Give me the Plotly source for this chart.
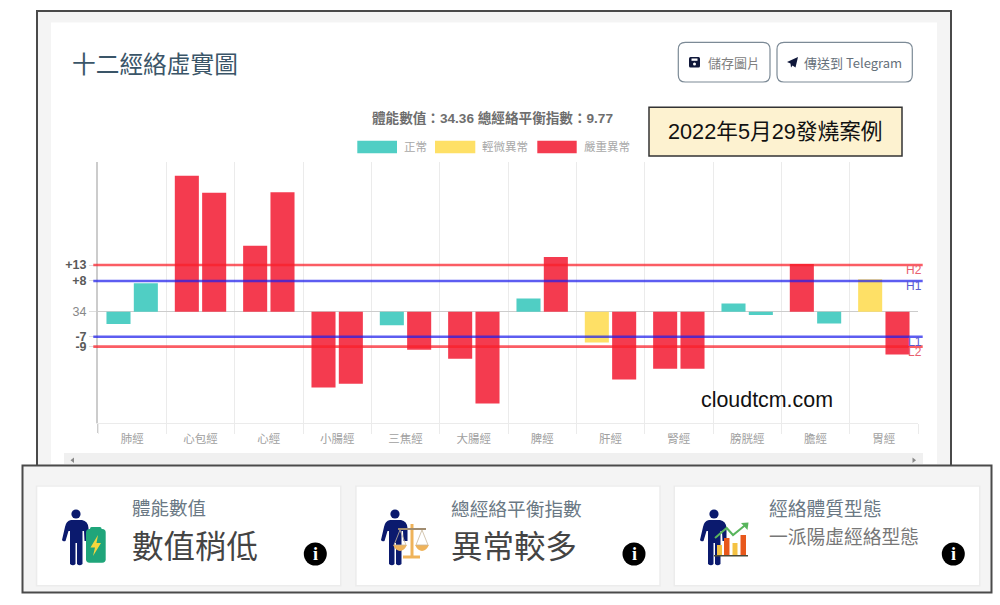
#!/usr/bin/env python3
# -*- coding: utf-8 -*-
# 十二經絡虛實圖 dashboard screenshot, rebuilt with plotly
import re
import plotly.graph_objects as go

W, H = 1000, 605
CJK = "Noto Sans CJK TC, Liberation Sans, sans-serif"
LATIN = "Liberation Sans, Noto Sans CJK TC, sans-serif"

# chart data
meridians = ["肺經", "心包經", "心經", "小腸經", "三焦經", "大腸經",
             "脾經", "肝經", "腎經", "膀胱經", "膽經", "胃經"]
left_values = [-3.4, 37.9, 18.4, -21.1, -3.8, -13.1, 3.7, -8.6, -15.9, 2.3, 13.3, 9.0]
right_values = [7.9, 33.1, 33.3, -20.1, -10.6, -25.6, 15.2, -18.9, -15.9, -0.9, -3.3, -11.9]
left_status = ["n", "s", "s", "s", "n", "s", "n", "m", "s", "n", "s", "m"]
right_status = ["n", "s", "s", "s", "s", "s", "s", "s", "s", "n", "n", "s"]

status_colors = {"n": "#50CEC4", "m": "#FEE066", "s": "#F43B4F"}
legend_labels = ["正常", "輕微異常", "嚴重異常"]

level_values = [13, 8.55, 0, -7, -9.75]
level_labels = ["<b>+13</b>", "<b>+8</b>", '<span style="color:#888">34</span>', "<b>-7</b>", "<b>-9</b>"]
limit_values = [13, 8.55, -7, -9.75]
limit_names = ["H2", "H1", "L1", "L2"]
limit_colors = ["rgba(250,30,40,0.72)", "rgba(30,30,235,0.72)", "rgba(30,30,235,0.72)", "rgba(250,30,40,0.72)"]
limit_text_colors = ["#E8606E", "#5A5AD0", "#5A5AD0", "#E8606E"]

y_min, y_max = -31.1, 41.7
plot_left, plot_right, plot_top, plot_bottom = 98, 918, 162, 423.3


def X(px):
    return px / W


def Y(py):
    return 1 - py / H


# pixel path -> paper path
def to_paper(d):
    return re.sub(r"(-?[\d.]+),(-?[\d.]+)",
                  lambda m: f"{X(float(m[1])):.5f},{Y(float(m[2])):.5f}", d)


shapes = []
notes = []


def rect(x0, y0, x1, y1, fill, line=None, w=1, layer="below"):
    shapes.append(dict(type="rect", xref="paper", yref="paper", layer=layer,
                       x0=X(x0), x1=X(x1), y0=Y(y0), y1=Y(y1), fillcolor=fill,
                       line=dict(color=line or "rgba(0,0,0,0)", width=w if line else 0)))


def path(d, fill="rgba(0,0,0,0)", line=None, w=1, layer="above"):
    shapes.append(dict(type="path", xref="paper", yref="paper", layer=layer, path=to_paper(d),
                       fillcolor=fill,
                       line=dict(color=line or "rgba(0,0,0,0)", width=w if line else 0)))


def circle(cx, cy, r, fill):
    shapes.append(dict(type="circle", xref="paper", yref="paper", layer="above",
                       x0=X(cx - r), x1=X(cx + r), y0=Y(cy + r), y1=Y(cy - r),
                       fillcolor=fill, line=dict(width=0)))


def text(x, y, s, size, color, anchor="left", font=CJK):
    notes.append(dict(xref="paper", yref="paper", x=X(x), y=Y(y), text=s, showarrow=False,
                      xanchor=anchor, yanchor="middle", borderpad=0,
                      font=dict(size=size, color=color, family=font)))


def rounded(x0, y0, x1, y1, r):
    return (f"M {x0 + r},{y0} L {x1 - r},{y0} Q {x1},{y0} {x1},{y0 + r} L {x1},{y1 - r} "
            f"Q {x1},{y1} {x1 - r},{y1} L {x0 + r},{y1} Q {x0},{y1} {x0},{y1 - r} "
            f"L {x0},{y0 + r} Q {x0},{y0} {x0 + r},{y0} Z")


def person(dx):
    circle(76 + dx, 514, 4.6, "#0B1A6E")
    d = (f"M {71 + dx},520 L {82 + dx},520 Q {88 + dx},521 {88.5 + dx},528 L {88.5 + dx},541 "
         f"L {84.5 + dx},541 L {84 + dx},531 L {82.5 + dx},531 L {82.5 + dx},564 "
         f"Q {79.5 + dx},566.5 {77 + dx},564 L {77 + dx},543 L {75.5 + dx},543 L {75.5 + dx},564 "
         f"Q {73 + dx},566.5 {70 + dx},564 L {70 + dx},531 L {68.5 + dx},531 L {65.5 + dx},541 "
         f"Q {63 + dx},542 {62 + dx},540 L {65 + dx},527 Q {66 + dx},521 {71 + dx},520 Z")
    path(d, fill="#0B1A6E")


# page background and the two dark frames
rect(37, 11, 951, 466, "#F4F4F4", "#4A4A4A", 2)
rect(51, 22.5, 937, 464, "#FFFFFF")
rect(64, 453, 923, 464, "#F0F0F0")
path("M 74,457.5 L 74,463 L 70.5,460.3 Z", fill="#888888", layer="below")
path("M 912.5,457.5 L 912.5,463 L 916,460.3 Z", fill="#888888", layer="below")
rect(22.5, 465.5, 991.5, 592.5, "#F4F4F4", "#4A4A4A", 2)

for x0, x1 in [(37.3, 340), (356.7, 659.3), (675, 979)]:
    rect(x0 - 1.5, 485.5, x1 + 1.5, 586.5, "#ECECEC")
    rect(x0, 486.7, x1, 585, "#FFFFFF")

# header
text(70.5, 63.5, "十二經絡虛實圖", 23.7, "#3A5568")
text(371, 118, "<b>體能數值：34.36 總經絡平衡指數：9.77</b>", 13.6, "#6E6E6E", font=LATIN)

# buttons
path(rounded(678.3, 42.3, 770, 82, 7), fill="#FFFFFF", line="#7C8A96", w=1.2)
path(rounded(777, 42.3, 912.3, 82, 7), fill="#FFFFFF", line="#7C8A96", w=1.2)
path(rounded(689, 57, 700, 67.5, 1.5), fill="#10183A")
rect(691.5, 58.5, 697.5, 60.8, "#FFFFFF", layer="above")
circle(694.5, 64, 1.5, "#FFFFFF")
path("M 798,57 L 795.5,67.5 L 792.5,65.5 L 791,67.5 L 790.5,63.5 L 787,62 Z", fill="#10183A")
text(707, 62, "儲存圖片", 13, "#808080")
text(803, 62, "傳送到 Telegram", 13, "#66707A", font="Noto Sans CJK TC, Liberation Sans, sans-serif")

# case note box
rect(649, 107.3, 902, 156, "#FDF2D0", "#333333", 1.5, layer="above")
text(775.5, 132, "2022年5月29發燒案例", 21.7, "#111111", anchor="center", font=LATIN)

# legend
for x0, x1, key, label, tx in zip([357.3, 435, 537.3], [397, 475.3, 576.7], ["n", "m", "s"],
                                  legend_labels, [403, 481, 583]):
    rect(x0, 140.7, x1, 153.3, status_colors[key])
    text(tx, 146, label, 11.5, "#A8A8A8")

# left axis stub under the plot
rect(97, 423, 99, 433, "#CCCCCC")

# limit lines and their tags
for value, name, color, tcolor in zip(limit_values, limit_names, limit_colors, limit_text_colors):
    shapes.append(dict(type="line", xref="paper", yref="y", layer="above",
                       x0=X(93.3), x1=X(922.7), y0=value, y1=value,
                       line=dict(color=color, width=2.6)))
    notes.append(dict(xref="paper", yref="y", x=X(923), y=value, text=name, showarrow=False,
                      xanchor="right", yanchor="top", yshift=3, borderpad=0,
                      font=dict(size=12, color=tcolor, family=LATIN)))

text(700, 400, "cloudtcm.com", 21.4, "#111111", font=LATIN)

# bottom cards
person(0)
path(rounded(86, 529, 105.7, 562.7, 3.5), fill="#1FA57A")
path(rounded(90, 527, 101.5, 532, 1.5), fill="#1FA57A")
path("M 98,535 L 90.5,547.5 L 95,547.5 L 93,556 L 101,543 L 96.5,543 Z", fill="#F5D63D")
text(131, 507, "體能數值", 18.5, "#6A7884")
text(131, 544, "數值稍低", 31.5, "#444444")

person(319)
rect(410.5, 524, 413.5, 556, "#EFB35A", layer="above")
rect(398, 528, 426, 530, "#A08C70", layer="above")
rect(403, 555.5, 420, 558.5, "#EFB35A", layer="above")
path("M 393,545 L 407,545 Q 404,551 400,551 Q 396,551 393,545 Z", fill="#EFB35A")
path("M 415,545 L 429,545 Q 426,551 422,551 Q 418,551 415,545 Z", fill="#EFB35A")
path("M 400,530 L 394,545 L 406,545 Z", line="#C9B79C", w=0.8)
path("M 422,530 L 416,545 L 428,545 Z", line="#C9B79C", w=0.8)
text(450, 507, "總經絡平衡指數", 18.7, "#6A7884")
text(450, 544, "異常較多", 31.5, "#444444")

person(638)
rect(717, 545, 722, 555, "#F5C242", layer="above")
rect(724, 538, 729.5, 555, "#E8581C", layer="above")
rect(732.5, 543, 737.5, 555, "#F5C242", layer="above")
rect(740.5, 535, 746, 555, "#E8581C", layer="above")
rect(714, 555, 748, 556.5, "#4A4A3A", layer="above")
path("M 715,538 L 726.7,528 L 733,535 L 746,524.5", line="#58B55C", w=2)
path("M 741,523 L 748.5,522.5 L 747.5,530 Z", fill="#58B55C")
text(768, 507, "經絡體質型態", 18.8, "#6A7884")
text(768, 535, "一派陽虛經絡型態", 18.75, "#777777")

for cx in [315.3, 634, 953.3]:
    circle(cx, 554, 11.5, "#000000")
    text(cx, 554, "<b>i</b>", 18, "#FFFFFF", anchor="center", font="Liberation Serif, serif")

fig = go.Figure()
fig.add_trace(go.Bar(x=meridians, y=left_values,
                     marker=dict(color=[status_colors[s] for s in left_status], line=dict(width=0))))
fig.add_trace(go.Bar(x=meridians, y=right_values,
                     marker=dict(color=[status_colors[s] for s in right_status], line=dict(width=0))))

fig.update_layout(
    width=W, height=H, margin=dict(l=0, r=0, t=0, b=0),
    paper_bgcolor="#FFFFFF", plot_bgcolor="rgba(0,0,0,0)",
    barmode="group", bargap=0.2, bargroupgap=0.12, showlegend=False,
    shapes=shapes, annotations=notes,
    font=dict(family=CJK),
    xaxis=dict(domain=[X(plot_left), X(plot_right)], type="category", tickson="boundaries",
               showgrid=True, gridcolor="#EBEBEB", gridwidth=1, ticks="outside", ticklen=10,
               tickcolor="#EBEBEB", showline=True, linecolor="#EBEBEB", ticklabelstandoff=5,
               tickfont=dict(size=11.5, color="#A0A0A0", family=CJK)),
    yaxis=dict(domain=[Y(plot_bottom), Y(plot_top)], range=[y_min, y_max],
               tickvals=level_values, ticktext=level_labels, showgrid=False,
               zeroline=True, zerolinecolor="#CCCCCC", zerolinewidth=1,
               showline=True, linecolor="#CCCCCC", linewidth=2,
               ticks="outside", ticklen=7, tickcolor="#DDDDDD",
               tickfont=dict(size=12.5, color="#5A5A5A", family=LATIN)),
)

fig.write_html("out.html", config=dict(displayModeBar=False),
               post_script="document.body.style.margin='0';")
